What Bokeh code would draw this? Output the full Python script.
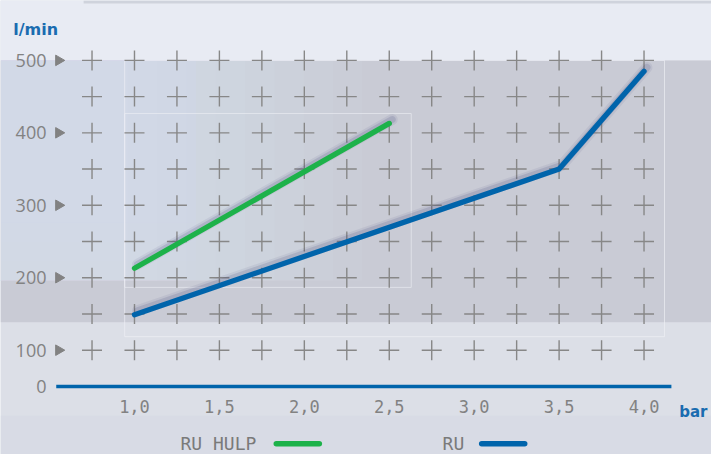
import numpy as np
from bokeh.plotting import figure
from bokeh.models import Range1d, BoxAnnotation, ColumnDataSource
from bokeh.embed import file_html
from bokeh.resources import INLINE
from bokeh.core.properties import value

# ---------------- data ----------------
pressure_ticks = [1.0, 1.5, 2.0, 2.5, 3.0, 3.5, 4.0]
pressure_labels = ["1,0", "1,5", "2,0", "2,5", "3,0", "3,5", "4,0"]
flow_ticks = [50, 100, 200, 300, 400, 500]
flow_labels = ["0", "100", "200", "300", "400", "500"]
flow_marker_ticks = [100, 200, 300, 400, 500]
grid_x = [0.75, 1.0, 1.25, 1.5, 1.75, 2.0, 2.25, 2.5, 2.75, 3.0, 3.25, 3.5, 3.75, 4.0]
grid_y = [100, 150, 200, 250, 300, 350, 400, 450, 500]

ru_hulp_x = [1.0, 2.5]
ru_hulp_y = [213, 413]
ru_x = [1.0, 3.5, 4.0]
ru_y = [149, 350, 485]

series_names = ["RU HULP", "RU"]
series_colors = ["#1db24a", "#0064ab"]

x_unit = "bar"
y_unit = "l/min"

# ---------------- geometry ----------------
W, H = 711, 454
REF_W, REF_H = 727.0, 470.0
PX_X = 173.67      # layout pixels per bar
PX_Y = 0.75        # layout pixels per l/min


def fx(px):
    """layout pixel (x) -> data x"""
    return 1.0 + (px - 137.0) / PX_X


def fy(py):
    """layout pixel (y) -> data y"""
    return 500.0 - (py - 62.0) / PX_Y


X0, X1 = fx(0), fx(REF_W)
Y0, Y1 = fy(REF_H), fy(0)

GREY_TXT = "#828282"
BLUE_TXT = "#1a6cb0"

p = figure(width=W, height=H, output_backend="svg", toolbar_location=None,
           x_range=Range1d(X0, X1), y_range=Range1d(Y0, Y1),
           min_border=0, title=None)
p.axis.visible = False
p.background_fill_color = "#dcdfe7"
p.border_fill_color = "#dcdfe7"
p.outline_line_color = None
p.xgrid.visible = False
p.ygrid.visible = False

# shadow ranges (shifted a few pixels right / down)
p.extra_x_ranges = {"sh": Range1d(fx(-3), fx(REF_W - 3))}
p.extra_y_ranges = {"sh": Range1d(fy(REF_H + 4), fy(4))}


def box(**kw):
    kw.setdefault("line_color", None)
    kw.setdefault("fill_alpha", 1)
    p.add_layout(BoxAnnotation(level="underlay", **kw))


# ---------------- background decoration ----------------
box(bottom=fy(62), fill_color="#e8ebf3")
box(bottom=fy(3), left=fx(85), fill_color="#cfd3dc")
box(top=fy(62), bottom=fy(333), fill_color="#c9cbd5")
# soft bluish glow on the left of the band
for r in range(130, 400, 30):
    box(top=fy(62), bottom=fy(290), right=fx(r), fill_color="#dce4f8", fill_alpha=0.09)
for b in range(230, 300, 20):
    box(top=fy(62), bottom=fy(b), right=fx(200), fill_color="#dce4f8", fill_alpha=0.06)
box(top=fy(430), fill_color="#d3d8e4", fill_alpha=0.5)
box(left=fx(127), right=fx(679), top=fy(62), bottom=fy(348), fill_alpha=0,
    line_color="#eef0f5", line_alpha=0.7, line_width=1)
box(left=fx(127), right=fx(420), top=fy(117), bottom=fy(297), fill_alpha=0,
    line_color="#eef0f5", line_alpha=0.6, line_width=1)

# ---------------- grid of crosses ----------------
gx, gy = np.meshgrid(grid_x, grid_y)
p.scatter(x=gx.ravel(), y=gy.ravel(), marker="cross", size=20,
          line_color="#878787", line_width=1.4)

# ---------------- y axis (labels + triangles) ----------------
p.text(x=[fx(47)] * len(flow_ticks), y=flow_ticks, text=flow_labels,
       text_font=value("Open Sans"), text_font_size="18px", text_color=GREY_TXT,
       text_align="right", text_baseline="middle")
p.scatter(x=[fx(59.5)] * len(flow_marker_ticks), y=flow_marker_ticks, marker="triangle",
          size=10.5, angle=-np.pi / 2, fill_color=GREY_TXT, line_color=GREY_TXT)
p.text(x=[fx(13)], y=[fy(30)], text=[y_unit], text_font=value("DejaVu Sans"),
       text_font_style="bold", text_font_size="16px", text_color=BLUE_TXT,
       text_align="left", text_baseline="alphabetic")

# ---------------- x axis (baseline + labels) ----------------
p.line(x=[fx(57), fx(686)], y=[50, 50], line_color="#0064ab", line_width=3.5)
p.text(x=pressure_ticks, y=[fy(420)] * len(pressure_ticks), text=pressure_labels,
       text_font=value("DejaVu Sans Mono"), text_font_size="17px", text_color=GREY_TXT,
       text_align="center", text_baseline="middle")
p.text(x=[fx(694)], y=[fy(426)], text=[x_unit], text_font=value("DejaVu Sans"),
       text_font_style="bold", text_font_size="15px", text_color=BLUE_TXT,
       text_align="left", text_baseline="alphabetic")

# ---------------- series ----------------
for xs, ys, col in [(ru_hulp_x, ru_hulp_y, series_colors[0]), (ru_x, ru_y, series_colors[1])]:
    src = ColumnDataSource(dict(x=xs, y=ys))
    p.line("x", "y", source=src, x_range_name="sh", y_range_name="sh",
           line_color="#2c3068", line_alpha=0.07, line_width=11,
           line_cap="round", line_join="round")
    p.line("x", "y", source=src, x_range_name="sh", y_range_name="sh",
           line_color="#2c3068", line_alpha=0.14, line_width=7,
           line_cap="round", line_join="round")
    p.line("x", "y", source=src, line_color=col, line_width=5.3,
           line_cap="round", line_join="round")

# ---------------- legend (label followed by line sample) ----------------
leg_y = fy(459)
p.text(x=[fx(184), fx(452)], y=[leg_y, leg_y], text=series_names,
       text_font=value("DejaVu Sans Mono"), text_font_size="18px", text_color="#7a7a7a",
       text_baseline="middle", text_align="left")
p.segment(x0=[fx(282), fx(492)], x1=[fx(326), fx(536)], y0=[leg_y, leg_y], y1=[leg_y, leg_y],
          line_color=series_colors, line_width=5.5, line_cap="round")

open("out.html", "w").write(file_html(p, INLINE))
